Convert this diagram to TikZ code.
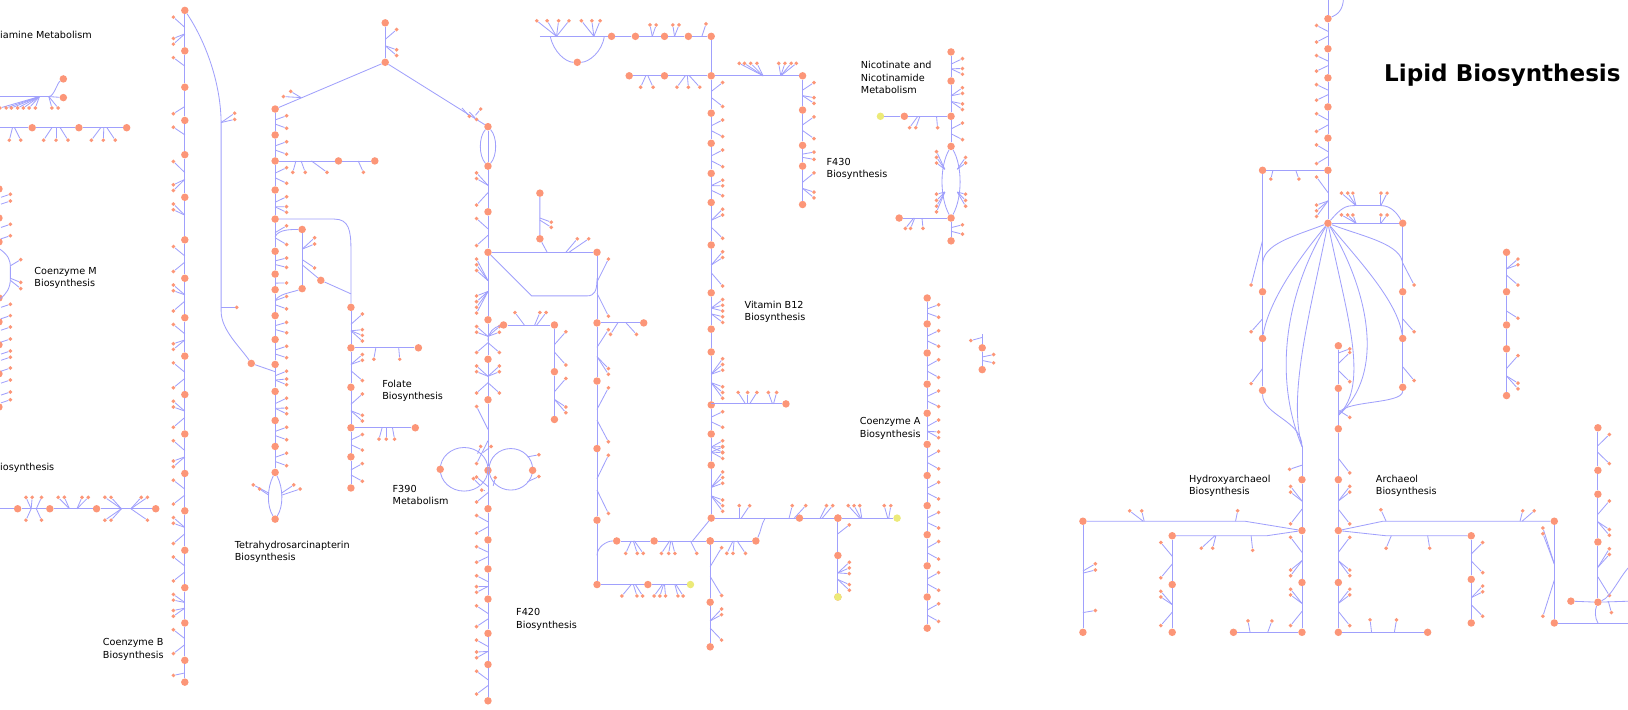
\documentclass[tikz,border=0pt]{standalone}
\usepackage{fontspec}
\setmainfont{DejaVu Sans}
\definecolor{lb}{RGB}{160,160,252}
\definecolor{nor}{RGB}{252,150,120}
\definecolor{yel}{RGB}{236,234,120}
\tikzset{
  rx/.style={draw=lb, line width=0.8pt},
  big/.style={circle, fill=nor, inner sep=0pt, minimum size=7.2pt},
  sm/.style={circle, fill=nor, inner sep=0pt, minimum size=3.8pt},
  ybig/.style={circle, fill=yel, inner sep=0pt, minimum size=7.2pt},
  lbl/.style={font=\fontsize{9.3}{11.8}\selectfont, align=left, anchor=north west, inner sep=0pt},
}
\newcount\nid
\def\newid{\global\advance\nid by 1\relax}
% twig: junction (#1,#2) -> small node (#3,#4)
\newcommand\tw[4]{\newid\coordinate (J\the\nid) at (#1,#2);\edef\ja{J\the\nid}\newid\node[sm] (S\the\nid) at (#3,#4) {};\draw[rx] (\ja) -- (S\the\nid);}
% vertical reaction
\newcommand\rv[6]{%
  \pgfmathsetmacro\rya{#2+0.42*(#3-#2)}%
  \pgfmathsetmacro\ryb{#2+0.58*(#3-#2)}%
  \pgfmathsetmacro\rxs{#1+(#6)*11}%
  \ifnum#4>0 \foreach \kk in {1,...,#4}{\tw{#1}{\rya}{\rxs}{#2+1+5.5*\kk}}\fi
  \ifnum#5>0 \foreach \kk in {1,...,#5}{\tw{#1}{\ryb}{\rxs}{#3-1-5.5*\kk}}\fi
}
% horizontal reaction
\newcommand\rh[6]{%
  \pgfmathsetmacro\rxa{#2+0.42*(#3-#2)}%
  \pgfmathsetmacro\rxb{#2+0.58*(#3-#2)}%
  \pgfmathsetmacro\rys{#1+(#6)*11}%
  \ifnum#4>0 \foreach \kk in {1,...,#4}{\tw{\rxa}{#1}{#2+2+6*\kk}{\rys}}\fi
  \ifnum#5>0 \foreach \kk in {1,...,#5}{\tw{\rxb}{#1}{#3-2-6*\kk}{\rys}}\fi
}
\newcommand\vch[4]{%
  \foreach \yy/\nA/\nB [count=\ci] in {#4}{%
    \node[big] (#1-\ci) at (#2,\yy) {};
    \ifnum\ci>1
      \pgfmathtruncatemacro\cj{\ci-1}%
      \draw[rx] (#1-\cj) -- (#1-\ci);
      \rv{#2}{\prevy}{\yy}{\nA}{\nB}{#3}%
    \fi
    \xdef\prevy{\yy}%
  }%
}
\newcommand\hch[4]{%
  \foreach \xx/\nA/\nB [count=\ci] in {#4}{%
    \node[big] (#1-\ci) at (\xx,#2) {};
    \ifnum\ci>1
      \pgfmathtruncatemacro\cj{\ci-1}%
      \draw[rx] (#1-\cj) -- (#1-\ci);
      \rh{#2}{\prevx}{\xx}{\nA}{\nB}{#3}%
    \fi
    \xdef\prevx{\xx}%
  }%
}
\begin{document}
\begin{tikzpicture}[x=1pt,y=-1pt]
\useasboundingbox (0,0) rectangle (1568,683);
\clip (0,0) rectangle (1568,683);
\fill[white] (0,0) rectangle (1568,683);

%% ---------------- Polyamine (top left)
\node[lbl] (tPoly) at (0,30) {iamine Metabolism};
\coordinate (p0) at (-2,93);
\coordinate (pj) at (47,93);
\node[big] (p1) at (61,76) {};
\node[big] (p2) at (61,94) {};
\draw[rx] (p0) -- (pj);
\draw[rx] (pj) .. controls (52,93) and (55,80) .. (p1);
\draw[rx] (pj) -- (p2);
\foreach \xs in {0,6,11,17,22.5,28,34}{\tw{38}{93}{\xs}{104}}
\tw{47}{93}{50}{104}\tw{47}{93}{56}{104}
\coordinate (q0) at (-2,123);
\hch{q}{123}{1}{31/0/0, 76/0/0, 122/0/0}
\draw[rx] (q0) -- (q-1);
\tw{12}{123}{9}{135}\tw{14}{123}{20}{135}
\tw{50}{123}{42}{135}\tw{54}{123}{54}{135}\tw{58}{123}{65.5}{135}
\tw{97}{123}{88}{135}\tw{100}{123}{99.5}{135}\tw{103}{123}{111}{135}

%% ---------------- Coenzyme M (left edge)
\foreach \yb in {182,210,233,287,310,332,360,392}{\newid\node[big] (E\the\nid) at (-1,\yb) {};}
\foreach \ys in {187,193.6,216,227,293,304,315,326.5,338,344,354.5,366,377.5,385}{\tw{1}{\ys+3}{10}{\ys}}
\coordinate (cm0) at (0,240);
\coordinate (cm1) at (0,288);
\draw[rx] (cm0) .. controls (8,246) and (10,250) .. (10,258) -- (10,268) .. controls (10,278) and (6,283) .. (cm1);
\tw{10}{256}{20}{250}\tw{10}{268}{20}{272}\tw{10}{270}{20}{278}
\node[lbl] (tCoM) at (33,257) {Coenzyme M\\Biosynthesis};
\node[lbl] (tBio1) at (0,446) {iosynthesis};

%% ---------------- left bottom row
\coordinate (r0) at (-2,490);
\hch{r}{490}{-1}{17/0/0, 48/2/1, 93/2/2, 150/2/2}
\draw[rx] (r0) -- (r-1);
\rh{490}{17}{48}{1}{1}{1}
\rh{490}{93}{150}{2}{1}{1}

%% ---------------- Coenzyme B column
\vch{A}{178}{-1}{10/0/0, 49/1/2, 84/1/0, 116/0/1, 149/1/0, 190/1/2, 231/2/0, 268/1/1, 306/2/1, 343/1/2, 380/1/1, 418/2/1, 456/1/2, 492/1/1, 530/2/1, 566/1/1, 600/2/2, 636/1/1, 657/0/1}
\node[big] (H242) at (242,350) {};
\draw[rx] (A-1) .. controls (198,40) and (213,80) .. (213,120) -- (213,300) .. controls (213,318) and (232,335) .. (H242);
\tw{213}{118}{226}{109}\tw{213}{118}{226}{115}
\tw{213}{296}{228}{296}
\coordinate (hb) at (265,358);
\draw[rx] (H242) -- (hb);
\node[lbl] (tCoB) at (99,615) {Coenzyme B\\Biosynthesis};

%% ---------------- Tetrahydrosarcinapterin column
\vch{B}{265}{1}{105/0/0, 130/1/1, 155/1/1, 183/1/1, 211/1/2, 242/1/1, 264/1/1, 279/0/1, 304/1/1, 327/1/1, 351/1/1, 377/1/2, 405/1/2, 430/1/1, 455/1/1}
\node[big] (Bend) at (265,500) {};
\draw[rx] (B-15) .. controls (257,470) and (257,488) .. (Bend);
\draw[rx] (B-15) .. controls (273,470) and (273,488) .. (Bend);
\tw{259}{475}{244}{467}\tw{259}{477}{250}{471}\tw{271}{475}{283}{467}\tw{271}{477}{289}{471}
\hch{h}{155}{1}{326/0/0, 361/0/0}
\draw[rx] (B-3) -- (h-1);
\tw{285}{155}{282}{166}\tw{290}{155}{294}{166}\tw{300}{155}{315}{166}\tw{345}{155}{350}{166}
\vch{T}{371}{1}{22/0/0, 60/1/2}
\draw[rx] (T-2) -- (B-1);
\tw{290}{94}{280}{88}\tw{290}{94}{273}{93}
\node[lbl] (tTHS) at (226,521) {Tetrahydrosarcinapterin\\Biosynthesis};

% x=291 side branch
\node[big] (D1) at (291,221) {};
\node[big] (D2) at (291,278) {};
\node[big] (D3) at (309,270) {};
\coordinate (d0) at (265,228);
\coordinate (d9) at (265,290);
\coordinate (d5) at (291,255);
\draw[rx] (d0) .. controls (268,221) and (280,221) .. (D1);
\draw[rx] (D1) -- (D2);
\draw[rx] (D2) .. controls (280,282) and (268,283) .. (d9);
\draw[rx] (d5) -- (D3);
\tw{291}{240}{303}{229}\tw{291}{240}{303}{235}\tw{291}{250}{303}{258}

%% ---------------- Folate
\vch{Fo}{338}{1}{296/0/0, 335/1/3, 373/2/1, 412/1/2, 440/1/1, 470/1/1}
\coordinate (fo0) at (338,240);
\draw[rx] (B-5) -- (322,211) .. controls (336,211) and (338,222) .. (fo0) -- (Fo-1);
\coordinate (fo3) at (338,283);
\draw[rx] (D3) -- (fo3);
\node[big] (Fh1) at (403,335) {};
\draw[rx] (Fo-2) -- (Fh1);
\tw{362}{335}{360}{346}\tw{384}{335}{385}{346}
\node[big] (Fh2) at (400,412) {};
\draw[rx] (Fo-4) -- (Fh2);
\tw{368}{412}{365}{423}\tw{372}{412}{372}{423}\tw{378}{412}{380}{423}
\node[lbl] (tFol) at (368,366) {Folate\\Biosynthesis};

%% ---------------- F420 column
\vch{F}{470}{-1}{122/0/0, 160/0/0, 204/2/1, 243/1/1, 308/3/4, 346/2/1, 385/2/1, 453/1/1, 490/1/1, 520/1/1, 548/1/1, 577/1/2, 610/1/1, 640/1/2, 675/1/1}
\draw[rx] (F-1) .. controls (461,132) and (461,150) .. (F-2);
\draw[rx] (F-1) .. controls (479,132) and (479,150) .. (F-2);
\draw[rx] (T-2) -- (F-1);
\tw{445}{104}{452}{112}\tw{452}{108}{459}{115}\tw{458}{111}{463}{105}
\rv{470}{308}{346}{2}{1}{1}
\rv{470}{346}{385}{2}{1}{1}
\node[lbl] (tF420) at (497,586) {F420\\Biosynthesis};

% ribose part
\node[big] (R1) at (520,186) {};
\node[big] (R2) at (520,230) {};
\coordinate (rj) at (527,243);
\draw[rx] (R1) -- (R2) -- (rj);
\tw{520}{210}{531}{214}\tw{520}{212}{531}{219}
\tw{545}{243}{556}{230}\tw{548}{243}{567}{230}
\vch{R}{575}{1}{243/0/0, 311/1/1, 367/1/2, 432/1/1, 501/1/1, 563/0/0}
\draw[rx] (F-4) -- (R-1);
\coordinate (tr1) at (512,285);
\coordinate (tr2) at (565,285);
\coordinate (tr3) at (575,268);
\draw[rx] (F-4) -- (tr1) -- (tr2) .. controls (573,285) and (575,280) .. (tr3);
\node[big] (RB) at (620,311) {};
\draw[rx] (R-2) -- (RB);
\tw{595}{311}{588}{322}\tw{603}{311}{613}{322}

% x=534 branch
\node[big] (M1) at (485,313) {};
\vch{M}{534}{1}{313/0/0, 358/1/1, 404/1/2}
\draw[rx] (M1) -- (M-1);
\coordinate (m0) at (470,328);
\draw[rx] (M1) .. controls (476,315) and (470,320) .. (m0);
\tw{505}{313}{496}{301}\tw{515}{313}{520}{301}\tw{517}{313}{526}{301}

% F390 loops
\draw[rx] (447,452) ellipse [x radius=23, y radius=21];
\draw[rx] (492,452) ellipse [x radius=21, y radius=20];
\node[big] (FL) at (424,452) {};
\node[big] (FR) at (513,453) {};
\tw{460}{437}{463}{430}\tw{465}{436}{473}{430}
\tw{508}{440}{519}{438}\tw{508}{464}{519}{459}
\tw{462}{467}{456}{461}\tw{475}{468}{477}{460}\tw{466}{472}{464}{472}
\node[lbl] (tF390) at (378,467) {F390\\Metabolism};

%% ---------------- bottom middle
\node[big] (Y2) at (624,563) {};
\node[ybig] (Y3) at (665,563) {};
\draw[rx] (R-6) -- (Y2) -- (Y3);
\tw{608}{563}{599}{574}\tw{610}{563}{613.5}{574}\tw{612}{563}{619}{574}
\tw{638}{563}{630}{574}\tw{639}{563}{635.6}{574}\tw{640}{563}{641}{574}
\tw{650}{563}{653}{574}\tw{651}{563}{658}{574}
\node[big] (W1) at (594,521) {};
\node[big] (W2) at (630,521) {};
\node[big] (W4) at (684,521) {};
\node[big] (W5) at (728,521) {};
\coordinate (wj) at (575,535);
\coordinate (wk) at (667,521);
\draw[rx] (wj) .. controls (575,527) and (584,521) .. (W1);
\draw[rx] (W1) -- (W2) -- (wk) -- (W4) -- (W5);
\tw{608}{521}{602.6}{533}\tw{610}{521}{613.8}{533}\tw{611}{521}{619.5}{533}
\tw{645}{521}{637}{533}\tw{646}{521}{644}{533}\tw{647}{521}{650}{533}
\tw{665}{521}{671}{533}
\tw{706}{521}{700}{533}\tw{707}{521}{706}{533}\tw{710}{521}{718}{533}
\vch{V}{684}{1}{521/0/0, 580/1/1, 623/2/1}

%% ---------------- Vitamin B12 column
\vch{C}{685}{1}{35/0/0, 73/0/0, 109/1/1, 138/1/1, 167/1/1, 195/2/1, 236/2/1, 282/2/1, 317/3/2, 339/0/0, 390/3/3, 418/1/1, 448/3/3, 499/3/3}
\draw[rx] (C-14) -- (wk);
\coordinate (xj) at (737,499);
\node[big] (X1) at (770,499) {};
\node[big] (X2) at (807,499) {};
\node[ybig] (X3) at (864,499) {};
\draw[rx] (C-14) -- (xj) -- (X1) -- (X2) -- (X3);
\draw[rx] (W5) .. controls (733,512) and (733,505) .. (xj);
\tw{712}{499}{712}{487}\tw{714}{499}{722}{487}
\tw{760}{499}{763}{487}\tw{765}{499}{776}{487}
\tw{790}{499}{796}{487}\tw{792}{499}{802}{487}
\tw{828}{499}{817}{487}\tw{829}{499}{822.6}{487}\tw{830}{499}{828}{487}
\tw{855}{499}{851.6}{487}\tw{856}{499}{858}{487}
\vch{G}{807}{1}{499/0/0, 535/1/0, 575/3/2}
\node[ybig] (G3y) at (807,575) {};
% branch at y=389
\node[big] (BB) at (757,389) {};
\coordinate (bbj) at (685,389);
\draw[rx] (bbj) -- (BB);
\tw{718}{389}{711}{378}\tw{720}{389}{720}{378}\tw{722}{389}{729}{378}\tw{744}{389}{740}{378}\tw{745}{389}{748}{378}
% top rows
\hch{U}{73}{1}{606/0/0, 640/0/0}
\draw[rx] (U-2) -- (C-2);
\tw{622}{73}{617}{84}\tw{624}{73}{629}{84}
\tw{660}{73}{652}{84}\tw{662}{73}{663}{84}\tw{664}{73}{674}{84}
\vch{K}{773}{1}{73/0/0, 106/1/2, 140/1/1, 160/1/1, 197/1/2}
\draw[rx] (C-2) -- (K-1);
\foreach \xs in {712,717,723,729}{\tw{735}{73}{\xs}{61}}
\foreach \xs in {750,756,762,767}{\tw{752}{73}{\xs}{61}}
\hch{Q}{35}{-1}{589/0/0, 612/0/0, 640/0/2, 663/2/0}
\draw[rx] (Q-4) -- (C-1);
\tw{676}{35}{680}{23}
\node[big] (L1) at (556,60) {};
\coordinate (lq0) at (520,35);
\coordinate (lq1) at (530,35);
\coordinate (lq2) at (582,35);
\draw[rx] (lq0) -- (Q-1);
\draw[rx] (lq1) .. controls (533,50) and (545,60) .. (L1);
\draw[rx] (L1) .. controls (567,60) and (580,50) .. (lq2);
\foreach \xs in {517,527,538,548}{\tw{536}{35}{\xs}{20}}
\foreach \xs in {560,570,578}{\tw{572}{35}{\xs}{20}}
\node[lbl] (tB12) at (717,290) {Vitamin B12\\Biosynthesis};
\node[lbl] (tF430) at (796,152) {F430\\Biosynthesis};

%% ---------------- Nicotinate
\vch{N}{916}{1}{50/0/0, 78/1/2, 112/2/2, 141/1/1}
\vch{N5}{916}{1}{210/0/0, 232/1/1}
\draw[rx] (N-4) .. controls (905,160) and (905,190) .. (N5-1);
\draw[rx] (N-4) .. controls (927,160) and (927,190) .. (N5-1);
\node[ybig] (Ny) at (848,112) {};
\node[big] (Nb) at (871,112) {};
\draw[rx] (Ny) -- (Nb) -- (N-3);
\tw{884}{112}{876}{123}\tw{886}{112}{882}{123}\tw{902}{112}{903}{123}
\foreach \ys in {146,151.6,157}{\tw{910}{163}{902}{\ys}}
\foreach \ys in {187,193,198.6,204}{\tw{910}{185}{902}{\ys}}
\foreach \ys in {151.6,157}{\tw{922}{163}{930}{\ys}}
\foreach \ys in {187,193,198.6}{\tw{922}{185}{930}{\ys}}
\node[big] (Nl) at (866,210) {};
\draw[rx] (Nl) -- (N5-1);
\tw{880}{210}{872}{220}\tw{881}{210}{877}{220}\tw{888}{210}{889}{220}
\node[lbl] (tNic) at (829,59) {Nicotinate and\\Nicotinamide\\Metabolism};

%% ---------------- Coenzyme A
\vch{CA}{893}{1}{287/0/0, 312/1/1, 340/1/1, 370/1/1, 398/1/1, 428/1/2, 458/1/1, 487/1/1, 515/1/1, 545/1/1, 575/1/1, 605/1/1}
\vch{CB}{946}{1}{335/0/0, 356/1/1}
\coordinate (cbj) at (946,322);
\draw[rx] (cbj) -- (CB-1);
\tw{946}{325}{935}{328}
\node[lbl] (tCoA) at (828,402) {Coenzyme A\\Biosynthesis};

%% ---------------- Lipid
\node[lbl, font=\fontsize{22.2}{26}\selectfont\bfseries] (tLip) at (1333,61) {Lipid Biosynthesis};
\vch{Lp}{1279}{-1}{18/0/0, 47/1/1, 75/1/1, 103/1/1, 133/1/1, 164/1/1, 215/1/3}
\coordinate (lp0) at (1279,-3);
\coordinate (lp1) at (1294,-3);
\draw[rx] (lp0) -- (Lp-1);
\draw[rx] (lp1) .. controls (1294,10) and (1288,14) .. (Lp-1);
\vch{LC}{1216}{-1}{164/0/0, 281/0/1, 326/0/1, 376/0/1}
\draw[rx] (LC-1) -- (Lp-6);
\tw{1226}{164}{1224}{172.5}\tw{1248}{164}{1251}{172.5}
\vch{RC}{1351}{1}{215/0/0, 281/0/1, 326/0/1, 373/0/1}
\draw[rx] (Lp-7) -- (RC-1);
\draw[rx] (Lp-7) .. controls (1292,200) and (1296,198) .. (1305,198) -- (1330,198) .. controls (1340,198) and (1346,206) .. (RC-1);
\foreach \xs in {1292,1298,1303}{\tw{1306}{198}{\xs}{186}}
\foreach \xs in {1330,1336}{\tw{1330}{198}{\xs}{186}}
\foreach \xs in {1292,1298,1303}{\tw{1306}{215}{\xs}{207}}
\foreach \xs in {1330,1336}{\tw{1330}{215}{\xs}{207}}
\coordinate (fl1) at (1216,255);
\coordinate (fr1) at (1351,255);
\coordinate (hxt) at (1254,430);
\coordinate (art) at (1289,400);
\draw[rx] (Lp-7) .. controls (1245,228) and (1216,235) .. (fl1);
\draw[rx] (Lp-7) .. controls (1313,228) and (1351,235) .. (fr1);
\draw[rx] (Lp-7) .. controls (1250,250) and (1222,290) .. (LC-3);
\draw[rx] (Lp-7) .. controls (1308,250) and (1346,290) .. (RC-3);
\draw[rx] (Lp-7) .. controls (1240,280) and (1225,360) .. (hxt);
\draw[rx] (Lp-7) .. controls (1262,300) and (1240,380) .. (hxt);
\draw[rx] (Lp-7) .. controls (1318,280) and (1335,360) .. (art);
\draw[rx] (Lp-7) .. controls (1296,300) and (1320,370) .. (art);
\draw[rx] (LC-4) .. controls (1216,400) and (1254,405) .. (hxt);
\draw[rx] (RC-4) .. controls (1351,390) and (1289,385) .. (art);
\vch{CC}{1289}{1}{333/0/0, 374/1/1}
\tw{1289}{340}{1300}{336}
\vch{AR}{1289}{1}{413/0/0, 462/0/1, 511/2/1, 561/1/2, 609/2/1}
\draw[rx] (CC-2) -- (AR-1);
\vch{HX}{1254}{-1}{462/0/0, 511/2/1, 561/1/2, 609/2/1}
\draw[rx] (hxt) -- (HX-1);
\tw{1254}{448}{1242}{452}
\tw{1289}{395}{1300}{402}
% hydroxyarchaeol left
\node[big] (HA) at (1043,502) {};
\coordinate (haj) at (1199,502);
\draw[rx] (HA) -- (haj) -- (HX-2);
\tw{1101}{502}{1088}{492}\tw{1102}{502}{1099.6}{492}\tw{1190}{502}{1192}{492}
\vch{HB}{1129}{-1}{516/0/0, 563/1/1, 609/2/1}
\coordinate (hbj) at (1220,516);
\draw[rx] (HB-1) -- (hbj) -- (HX-2);
\tw{1170}{516}{1157}{528}\tw{1171}{516}{1168}{528}\tw{1205}{516}{1206.5}{530}
\node[big] (HA2) at (1043,609) {};
\draw[rx] (HA) -- (HA2);
\tw{1043}{550}{1055}{543}\tw{1043}{552}{1055}{549}\tw{1043}{590}{1055}{588}
\node[big] (HC) at (1188,609) {};
\draw[rx] (HC) -- (HX-4);
\tw{1204}{609}{1202}{598}\tw{1221}{609}{1225}{598}
\node[lbl] (tHyd) at (1145,457) {Hydroxyarchaeol\\Biosynthesis};
% archaeol right
\coordinate (aj1) at (1332,502);
\coordinate (aj2) at (1335,516);
\vch{AQ}{1417}{1}{516/0/0, 558/1/1, 600/2/1}
\vch{AZ}{1497}{-1}{502/0/0, 600/2/1}
\draw[rx] (AR-3) -- (aj1) -- (AZ-1);
\draw[rx] (AR-3) -- (aj2) -- (AQ-1);
\tw{1335}{502}{1330}{491}
\tw{1464}{502}{1466.5}{492}\tw{1466}{502}{1477.6}{492}
\tw{1340}{516}{1335}{528}\tw{1375}{516}{1377}{528}
\node[big] (AP) at (1375,609) {};
\draw[rx] (AR-5) -- (AP);
\tw{1321}{609}{1319.6}{597}\tw{1343}{609}{1345}{597}
\node[lbl] (tArc) at (1325,457) {Archaeol\\Biosynthesis};
% far right
\vch{Rt}{1539}{1}{412/0/0, 453/1/1, 476/0/0, 522/1/2, 580/2/1}
\node[big] (Rtl) at (1513,579) {};
\draw[rx] (Rtl) -- (Rt-5);
\coordinate (rte) at (1570,579);
\draw[rx] (Rt-5) -- (rte);
\tw{1549}{579}{1552}{590}
\coordinate (rtc) at (1570,545);
\draw[rx] (Rt-5) .. controls (1552,575) and (1560,555) .. (rtc);
\coordinate (rtb) at (1539,600);
\coordinate (rtd) at (1570,600);
\draw[rx] (Rt-5) .. controls (1536,588) and (1536,595) .. (rtb);
\draw[rx] (AZ-2) -- (rtd);
\vch{Sc}{1451}{1}{243/0/0, 281/2/1, 313/0/1, 336/0/0, 381/1/2}
\end{tikzpicture}
\end{document}
